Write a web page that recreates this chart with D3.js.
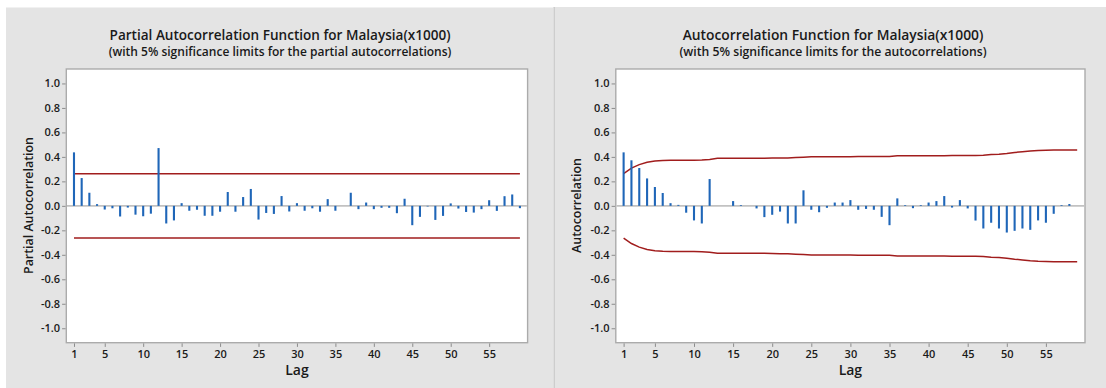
<!DOCTYPE html>
<html>
<head>
<meta charset="utf-8">
<script src="https://cdn.jsdelivr.net/npm/d3@7"></script>
<style>
  html, body { margin: 0; padding: 0; background: #ffffff; }
  svg { display: block; }
  text { font-family: "Open Sans", "Noto Sans", sans-serif; fill: #1a1a1a; }
</style>
</head>
<body>
<svg id="chart" width="1106" height="388"></svg>
<script>
// Partial autocorrelations, lags 1..59
const pacfValues = [
  0.437, 0.227, 0.107, 0.014, -0.030, -0.020, -0.087, -0.014, -0.072, -0.085,
  -0.064, 0.472, -0.144, -0.119, 0.022, -0.040, -0.032, -0.081, -0.081, -0.048,
  0.113, -0.048, 0.072, 0.138, -0.112, -0.058, -0.066, 0.080, -0.046, 0.022,
  -0.040, -0.020, -0.048, 0.055, -0.040, 0.000, 0.107, -0.027, 0.027, -0.027,
  -0.016, -0.016, -0.060, 0.058, -0.158, -0.090, -0.005, -0.115, -0.082, 0.020,
  -0.022, -0.050, -0.055, -0.027, 0.046, -0.041, 0.079, 0.093, -0.019
];
// 5% significance limit for the partial autocorrelations (constant)
const pacfLimit = 0.262;

// Autocorrelations, lags 1..59
const acfValues = [
  0.437, 0.372, 0.309, 0.224, 0.154, 0.105, 0.022, 0.008, -0.056, -0.119,
  -0.144, 0.219, 0.000, 0.000, 0.039, 0.006, 0.000, -0.021, -0.092, -0.073,
  -0.047, -0.144, -0.144, 0.127, -0.032, -0.052, -0.016, 0.027, 0.027, 0.047,
  -0.032, -0.025, -0.032, -0.090, -0.158, 0.061, 0.006, -0.019, 0.006, 0.027,
  0.039, 0.080, -0.014, 0.047, -0.021, -0.120, -0.185, -0.138, -0.185, -0.218,
  -0.204, -0.185, -0.196, -0.119, -0.138, -0.065, 0.006, 0.015, 0.000
];
// 5% significance limits for the autocorrelations (upper; lower is the negative)
const acfLimits = [
  0.264, 0.308, 0.337, 0.356, 0.366, 0.370, 0.372, 0.372, 0.372, 0.373,
  0.375, 0.379, 0.388, 0.388, 0.388, 0.388, 0.388, 0.388, 0.388, 0.390,
  0.391, 0.391, 0.395, 0.398, 0.401, 0.401, 0.402, 0.402, 0.402, 0.402,
  0.403, 0.403, 0.403, 0.403, 0.404, 0.409, 0.409, 0.409, 0.409, 0.409,
  0.409, 0.410, 0.411, 0.411, 0.411, 0.411, 0.413, 0.419, 0.422, 0.428,
  0.436, 0.442, 0.448, 0.452, 0.454, 0.456, 0.456, 0.456, 0.456
];

const xTickValues = [1, 5, 10, 15, 20, 25, 30, 35, 40, 45, 50, 55];
const yTickValues = [-1.0, -0.8, -0.6, -0.4, -0.2, 0.0, 0.2, 0.4, 0.6, 0.8, 1.0];
const yTickLabels = ["-1.0", "-0.8", "-0.6", "-0.4", "-0.2", "0.0", "0.2", "0.4", "0.6", "0.8", "1.0"];

const panels = [
  {
    title: "Partial Autocorrelation Function for Malaysia(x1000)",
    subtitle: "(with 5% significance limits for the partial autocorrelations)",
    yLabel: "Partial Autocorrelation",
    values: pacfValues,
    upper: pacfValues.map(() => pacfLimit),
    bg: { x0: 6, x1: 553.3, y0: 7.5 },
    plot: { x0: 66.3, x1: 527.6, y0: 69, y1: 342.7 },
    titleX: 280, titleW: 341, subW: 343,
    yLabelX: 27.5, yLabelW: 137
  },
  {
    title: "Autocorrelation Function for Malaysia(x1000)",
    subtitle: "(with 5% significance limits for the autocorrelations)",
    yLabel: "Autocorrelation",
    values: acfValues,
    upper: acfLimits,
    bg: { x0: 555, x1: 1106, y0: 7 },
    plot: { x0: 615.8, x1: 1085, y0: 69, y1: 342.7 },
    titleX: 833, titleW: 301, subW: 307,
    yLabelX: 576.3, yLabelW: 95
  }
];

const svg = d3.select("#chart");

// scale a text's font size so that it spans the given width
function fitWidth(sel, target) {
  const node = sel.node();
  const fs = parseFloat(sel.attr("font-size"));
  const w = node.getComputedTextLength();
  if (w > 0) sel.attr("font-size", (fs * target / w).toFixed(2));
}

// divider between the two panels
svg.append("rect").attr("x", 553.3).attr("y", 7).attr("width", 1.7).attr("height", 381)
  .attr("fill", "#cdcdcd");

panels.forEach(p => {
  const g = svg.append("g");

  g.append("rect")
    .attr("x", p.bg.x0).attr("y", p.bg.y0)
    .attr("width", p.bg.x1 - p.bg.x0).attr("height", 388 - p.bg.y0)
    .attr("fill", "#e4e4e4");

  const x = d3.scaleLinear().domain([0, 60]).range([p.plot.x0, p.plot.x1]);
  const y = d3.scaleLinear().domain([-1.118, 1.118]).range([p.plot.y1, p.plot.y0]);

  g.append("rect")
    .attr("x", p.plot.x0).attr("y", p.plot.y0)
    .attr("width", p.plot.x1 - p.plot.x0).attr("height", p.plot.y1 - p.plot.y0)
    .attr("fill", "#ffffff").attr("stroke", "#ababab").attr("stroke-width", 1.4);

  // axes
  const yAxis = d3.axisLeft(y).tickValues(yTickValues)
    .tickFormat((d, i) => yTickLabels[i]).tickSize(3.5).tickPadding(2);
  const ya = g.append("g").attr("transform", `translate(${p.plot.x0 - 0.7},0)`).call(yAxis);
  const xAxis = d3.axisBottom(x).tickValues(xTickValues).tickSize(3.5).tickPadding(3);
  const xa = g.append("g").attr("transform", `translate(0,${p.plot.y1 + 0.7})`).call(xAxis);
  [ya, xa].forEach(a => {
    a.select(".domain").remove();
    a.selectAll(".tick line").attr("stroke", "#8c8c8c").attr("stroke-width", 1);
    a.selectAll(".tick text").attr("font-size", 11).attr("font-weight", 600)
      .attr("fill", "#1f1f1f").style("font-family", "'Open Sans', 'Noto Sans', sans-serif");
  });

  // zero reference line
  g.append("line")
    .attr("x1", p.plot.x0 + 0.7).attr("x2", p.plot.x1 - 0.7)
    .attr("y1", y(0)).attr("y2", y(0))
    .attr("stroke", "#c2c2c2").attr("stroke-width", 1.8);

  // significance limits
  const limitLine = d3.line().x((d, i) => x(i + 1)).y(d => y(d));
  g.append("path").datum(p.upper).attr("d", limitLine)
    .attr("fill", "none").attr("stroke", "#a11d1d").attr("stroke-width", 1.5);
  g.append("path").datum(p.upper.map(v => -v)).attr("d", limitLine)
    .attr("fill", "none").attr("stroke", "#a11d1d").attr("stroke-width", 1.5);

  // correlation spikes
  g.append("g").selectAll("line").data(p.values).join("line")
    .attr("x1", (d, i) => x(i + 1)).attr("x2", (d, i) => x(i + 1))
    .attr("y1", y(0)).attr("y2", d => y(d))
    .attr("stroke", "#1f66b8").attr("stroke-width", 2.1);

  // titles
  const t1 = g.append("text").attr("x", p.titleX).attr("y", 39.5)
    .attr("text-anchor", "middle").attr("font-size", 14).attr("font-weight", 600)
    .text(p.title);
  fitWidth(t1, p.titleW);
  const t2 = g.append("text").attr("x", p.titleX).attr("y", 55.5)
    .attr("text-anchor", "middle").attr("font-size", 12).attr("font-weight", 600)
    .text(p.subtitle);
  fitWidth(t2, p.subW);

  // axis titles
  const cx = (p.plot.x0 + p.plot.x1) / 2;
  g.append("text").attr("x", cx).attr("y", 374.5)
    .attr("text-anchor", "middle").attr("font-size", 14).attr("font-weight", 600)
    .text("Lag");
  const yl = g.append("text")
    .attr("transform", `translate(${p.yLabelX + 5},${205.5}) rotate(-90)`)
    .attr("text-anchor", "middle").attr("font-size", 13).attr("font-weight", 600)
    .text(p.yLabel);
  fitWidth(yl, p.yLabelW);
});
</script>
</body>
</html>
